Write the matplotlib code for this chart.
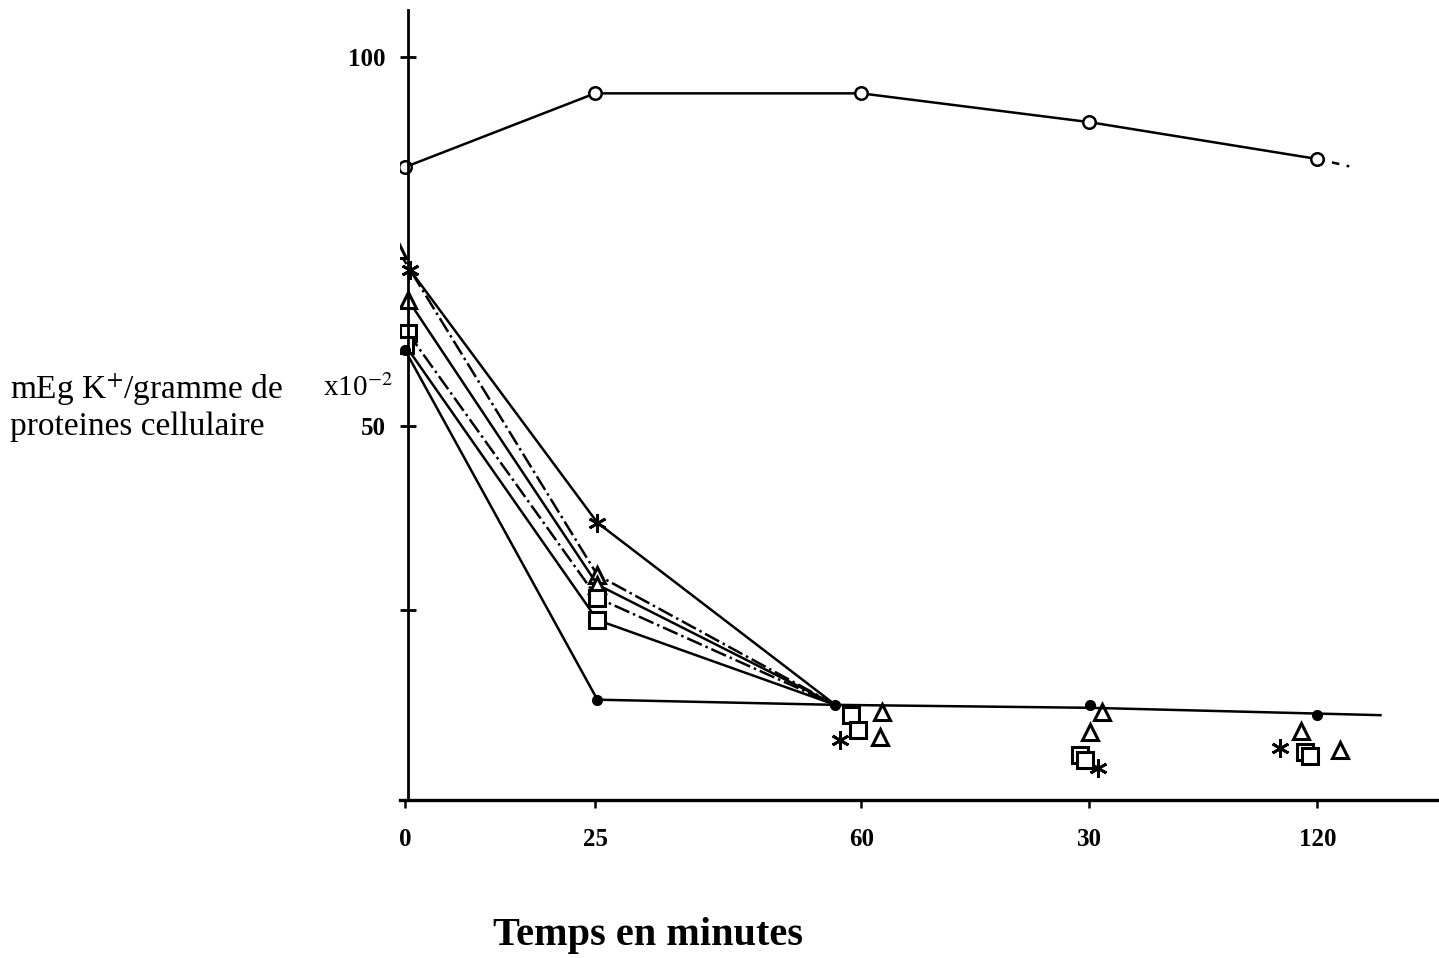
import matplotlib.pyplot as plt
import numpy as np

plt.rcParams['font.family'] = ['Liberation Serif', 'DejaVu Serif']
plt.rcParams['mathtext.fontset'] = 'stix'

# time axis (minutes) and tick labels as written on the chart
tick_t = [0, 25, 60, 90, 120]
tick_labels = ['0', '25', '60', '30', '120']

# control series (open circles)
ctrl_t = [0, 25, 60, 90, 120]
ctrl_y = [85.1, 95.1, 95.1, 91.2, 86.2]

# point where the lower curves meet
meet_t = 56.6
meet_y = 12.2

# lower series: marker times / values
star_t = [0.7, 25.3, 57.2, 91.2, 115.1]
star_y = [71.1, 36.9, 7.5, 3.7, 6.4]
triA_t = [-0.9, 25.3, 62.8, 91.7, 117.8]
triA_y = [73.8, 29.8, 11.2, 11.2, 8.6]
triB_t = [0.4, 25.3, 62.5, 90.1, 123.0]
triB_y = [67.1, 28.5, 7.9, 8.5, 6.1]
sqA_t = [0.4, 25.3, 58.6, 88.8, 118.4]
sqA_y = [62.6, 26.7, 10.8, 5.4, 5.8]
sqB_t = [0.0, 25.3, 59.6, 89.5, 119.0]
sqB_y = [61.0, 23.7, 8.8, 4.7, 5.2]
dot_t = [0.0, 25.3, 56.6, 90.1, 120.0]
dot_y = [60.3, 12.9, 12.2, 12.2, 10.8]
dot_line_t = [0.0, 25.3, 56.6, 90.1, 128.3]
dot_line_y = [60.3, 12.9, 12.2, 11.8, 10.8]

fig = plt.figure(figsize=(14.39, 9.58), dpi=100)
ax = fig.add_axes([400 / 1439, 1 - 800 / 958, 1039 / 1439, 790 / 958])
ax.set_xlim(-0.66, 136.0)
ax.set_ylim(-0.7, 106.4)

LW = 1.8
ax.plot(ctrl_t, ctrl_y, color='black', lw=LW)
ax.plot([ctrl_t[-1], ctrl_t[-1] + 4.2], [ctrl_y[-1], ctrl_y[-1] - 1.0], color='black', lw=LW, ls=(0, (3, 3)))
ax.plot(ctrl_t, ctrl_y, 'o', ms=9, mfc='white', mec='black', mew=1.8)

series = [
    (star_t, star_y, (6, 2, 0), '-'),
    (triA_t, triA_y, '^', '-.'),
    (triB_t, triB_y, '^', '-'),
    (sqA_t, sqA_y, 's', '-.'),
    (sqB_t, sqB_y, 's', '-'),
]
for t, y, m, ls in series:
    ax.plot([t[0], t[1], meet_t], [y[0], y[1], meet_y], color='black', lw=LW, ls=ls)
    if m == (6, 2, 0):
        ax.plot(t, y, ls='none', marker=m, ms=13, mec='black', mew=2)
    else:
        ax.plot(t, y, ls='none', marker=m, ms=11, mfc='white', mec='black', mew=2.2)

ax.plot(dot_line_t, dot_line_y, color='black', lw=LW)
ax.plot(dot_t, dot_y, 'o', ms=7, color='black')

for s in ['top', 'right']:
    ax.spines[s].set_visible(False)
ax.spines['left'].set_position(('data', 0.4))
ax.spines['left'].set_linewidth(2)
ax.spines['bottom'].set_linewidth(2.4)
ax.spines['bottom'].set_linestyle((0, (8, 1)))

ax.set_yticks([100, 50, 25])
ax.set_yticklabels(['100', '50', ''], fontsize=18, fontweight='bold')
ax.tick_params(axis='y', direction='inout', length=12, width=2, pad=10)
ax.set_xticks(tick_t)
ax.set_xticklabels(tick_labels, fontsize=18, fontweight='bold')
ax.tick_params(axis='x', direction='out', length=6, width=1.8, pad=14)

fig.text(10 / 1439, 1 - 390 / 958, r'mEg K$^{+}$/gramme de', fontsize=24, va='center')
fig.text(10 / 1439, 1 - 427 / 958, 'proteines cellulaire', fontsize=24, va='center')
fig.text(323 / 1439, 1 - 388 / 958, r'x10$^{-2}$', fontsize=21, va='center')
fig.text(648 / 1439, 1 - 935 / 958, 'Temps en minutes', fontsize=29, fontweight='bold',
         ha='center', va='center')

fig.savefig('out.png', dpi=100, facecolor='white')
